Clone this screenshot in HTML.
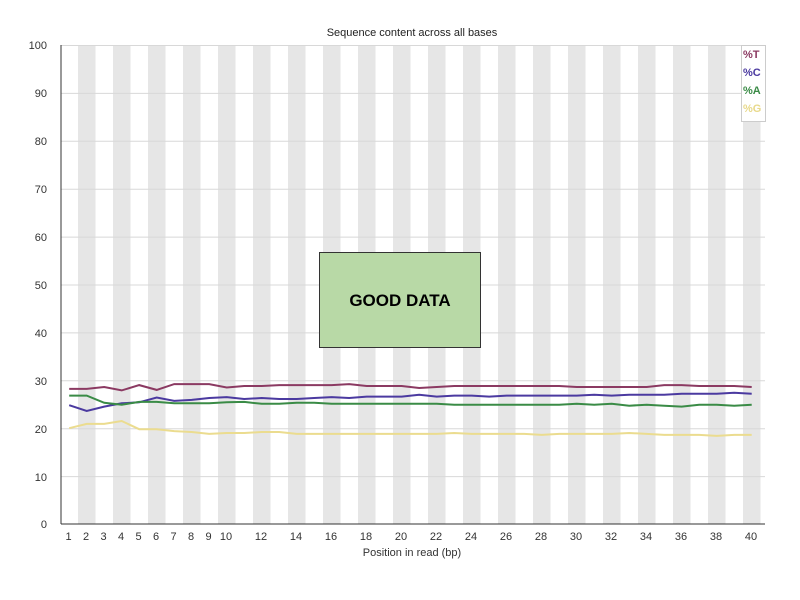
<!DOCTYPE html>
<html><head><style>body{margin:0;background:#fff}svg{display:block;font-family:"Liberation Sans",sans-serif}</style></head><body>
<svg id="s" width="800" height="600" xmlns="http://www.w3.org/2000/svg">
<rect width="800" height="600" fill="#fff"/>
<g id="bands"></g>
<g stroke="#d8d8d8" stroke-width="1">
<line x1="61" x2="765" y1="45.5" y2="45.5"/><line x1="61" x2="765" y1="93.4" y2="93.4"/><line x1="61" x2="765" y1="141.3" y2="141.3"/><line x1="61" x2="765" y1="189.2" y2="189.2"/><line x1="61" x2="765" y1="237.1" y2="237.1"/><line x1="61" x2="765" y1="285" y2="285"/><line x1="61" x2="765" y1="332.9" y2="332.9"/><line x1="61" x2="765" y1="380.8" y2="380.8"/><line x1="61" x2="765" y1="428.7" y2="428.7"/><line x1="61" x2="765" y1="476.6" y2="476.6"/>
</g>
<line x1="61" x2="61" y1="45" y2="524" stroke="#333"/>
<line x1="61" x2="765" y1="524" y2="524" stroke="#333"/>
<g id="lines" fill="none" stroke-width="2"></g>
<text x="412" y="36" font-size="11" text-anchor="middle" fill="#222">Sequence content across all bases</text>
<g font-size="11" fill="#333" text-anchor="end">
<text x="47" y="49">100</text><text x="47" y="97">90</text><text x="47" y="145">80</text><text x="47" y="193">70</text><text x="47" y="241">60</text><text x="47" y="289">50</text><text x="47" y="337">40</text><text x="47" y="385">30</text><text x="47" y="433">20</text><text x="47" y="481">10</text><text x="47" y="528">0</text>
</g>
<g font-size="11" fill="#333" text-anchor="middle">
<text x="68.5" y="540">1</text><text x="86" y="540">2</text><text x="103.5" y="540">3</text><text x="121" y="540">4</text><text x="138.5" y="540">5</text><text x="156" y="540">6</text><text x="173.5" y="540">7</text><text x="191" y="540">8</text><text x="208.5" y="540">9</text><text x="226" y="540">10</text><text x="261" y="540">12</text><text x="296" y="540">14</text><text x="331" y="540">16</text><text x="366" y="540">18</text><text x="401" y="540">20</text><text x="436" y="540">22</text><text x="471" y="540">24</text><text x="506" y="540">26</text><text x="541" y="540">28</text><text x="576" y="540">30</text><text x="611" y="540">32</text><text x="646" y="540">34</text><text x="681" y="540">36</text><text x="716" y="540">38</text><text x="751" y="540">40</text>
<text x="412" y="556">Position in read (bp)</text>
</g>
<rect x="741.5" y="45.5" width="23" height="55" fill="#fff" stroke="#ccc"/>
<rect x="741.5" y="45.5" width="23" height="55" fill="#fff" stroke="#ccc"/>
<rect x="741.5" y="45.5" width="24" height="76" fill="#fff" stroke="#ccc"/>
<g font-size="11" font-weight="bold">
<text x="743" y="58" fill="#8b3a62">%T</text><text x="743" y="76" fill="#4b3aa0">%C</text><text x="743" y="94" fill="#3a8b46">%A</text><text x="743" y="112" fill="#e8d98a">%G</text>
</g>
<rect x="319.5" y="252.5" width="161" height="95" fill="#b8d9a6" stroke="#333"/>
<text x="400" y="306" font-size="17" font-weight="bold" text-anchor="middle" fill="#000">GOOD DATA</text>
</svg>
<script>
var NS="http://www.w3.org/2000/svg",w=17.5,b=document.getElementById("bands");
for(var i=2;i<=40;i+=2){var r=document.createElementNS(NS,"rect");r.setAttribute("x",60.5+(i-1)*w);r.setAttribute("y",46);r.setAttribute("width",w);r.setAttribute("height",478);r.setAttribute("fill","#e6e6e6");b.insertBefore(r,null);}
var D={"#8b3a62":[28.2,28.2,28.6,27.9,29,28,29.2,29.2,29.2,28.5,28.8,28.8,29,29,29,29,29.2,28.8,28.8,28.8,28.4,28.6,28.8,28.8,28.8,28.8,28.8,28.8,28.8,28.6,28.6,28.6,28.6,28.6,29,29,28.8,28.8,28.8,28.6],
"#4b3aa0":[24.8,23.6,24.5,25.2,25.4,26.4,25.7,25.9,26.3,26.5,26.1,26.3,26.1,26.1,26.3,26.5,26.3,26.6,26.6,26.6,27,26.6,26.8,26.8,26.6,26.8,26.8,26.8,26.8,26.8,27,26.8,27,27,27,27.2,27.2,27.2,27.4,27.2],
"#3a8b46":[26.8,26.8,25.3,24.9,25.5,25.5,25.2,25.2,25.2,25.4,25.5,25.1,25.1,25.3,25.3,25.1,25.1,25.1,25.1,25.1,25.1,25.1,24.9,24.9,24.9,24.9,24.9,24.9,24.9,25.1,24.9,25.1,24.7,24.9,24.7,24.5,24.9,24.9,24.7,24.9],
"#ebdc8f":[20,20.9,20.9,21.5,19.8,19.8,19.4,19.2,18.8,19,19,19.2,19.2,18.8,18.8,18.8,18.8,18.8,18.8,18.8,18.8,18.8,19,18.8,18.8,18.8,18.8,18.6,18.8,18.8,18.8,18.8,19,18.8,18.6,18.6,18.6,18.4,18.6,18.6]};
var L=document.getElementById("lines");
for(var c in D){var p=D[c].map(function(v,i){return (69.2+i*w).toFixed(1)+","+(524-v*4.79).toFixed(1)}).join(" ");var e=document.createElementNS(NS,"polyline");e.setAttribute("points",p);e.setAttribute("stroke",c);L.appendChild(e);}
</script>
</body></html>
